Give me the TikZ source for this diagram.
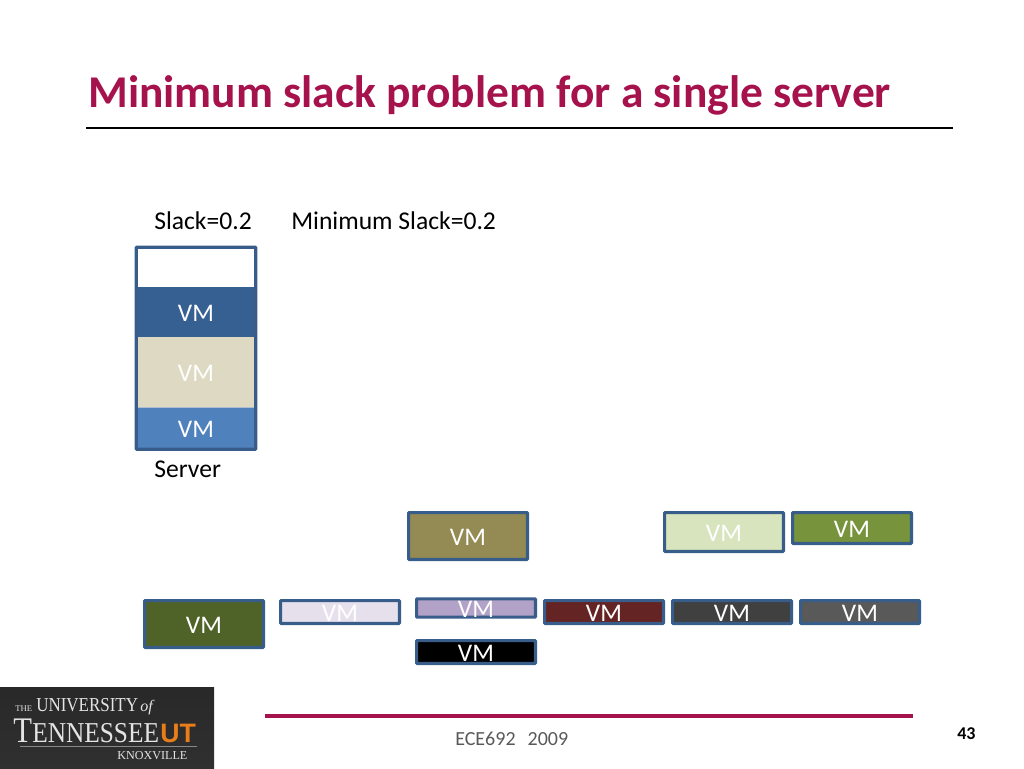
\documentclass[tikz,border=0pt]{standalone}
\usepackage{xcolor}
\usepackage{fontspec}
\setmainfont{Carlito}
\newfontfamily\logofont{Liberation Serif}
\newfontfamily\utfont{Liberation Sans}
\definecolor{titlered}{HTML}{A6124C}
\definecolor{vmborder}{HTML}{385D8A}
\definecolor{logobg}{HTML}{3C3C3C}
\definecolor{logotext}{HTML}{E4E4E4}
\definecolor{utorange}{HTML}{E87E1A}
\definecolor{vmblue}{HTML}{376092}
\definecolor{vmbeige}{HTML}{DDD9C3}
\definecolor{vmsky}{HTML}{4F81BD}
\definecolor{vmkhaki}{HTML}{948A54}
\definecolor{vmpale}{HTML}{D7E4BD}
\definecolor{vmgreen}{HTML}{77933C}
\definecolor{vmolive}{HTML}{4F6228}
\definecolor{vmlilac}{HTML}{E6E0EC}
\definecolor{vmpurple}{HTML}{B3A2C7}
\definecolor{vmred}{HTML}{632423}
\definecolor{vmdark}{HTML}{404040}
\definecolor{vmgray}{HTML}{595959}
\tikzset{
  vmtext/.style={text=white, inner sep=0pt, text height=13.7pt, text depth=0pt, font=\fontsize{19}{19}\selectfont},
  vmbox/.style={vmtext, draw=vmborder, line width=2.3pt, rounded corners=0.5pt},
  vmsize/.style 2 args={minimum width=#1*0.75pt-2.3pt, minimum height=#2*0.75pt-2.3pt},
  stackbox/.style={vmtext, minimum width=119*0.75pt},
  slidetext/.style={anchor=base west, inner sep=0pt, font=\fontsize{19.2}{22}\selectfont},
  logotxt/.style={anchor=base west, inner sep=0pt, text=logotext}
}
\begin{document}
\begin{tikzpicture}[x=0.75pt, y=-0.75pt]

\useasboundingbox (0,0) rectangle (1024,768);

% title
\node[anchor=base west, inner sep=0pt, text=titlered, font=\fontsize{34.1}{34}\selectfont\bfseries] (title) at (88,107) {Minimum slack problem for a single server};
\draw[line width=2.2pt] (86,128) -- (953,128);

\node[slidetext] (slack) at (154,229) {Slack=0.2};
\node[slidetext] (minslack) at (291,229) {Minimum Slack=0.2};
\node[slidetext] (server) at (154,477) {Server};

% server stack
\node[stackbox, fill=white, minimum height=40*0.75pt] (free) at (196,267.5) {};
\node[stackbox, fill=vmblue, minimum height=50*0.75pt] (vma) at (196,312) {VM};
\node[stackbox, fill=vmbeige, minimum height=70*0.75pt] (vmb) at (196,372) {VM};
\node[stackbox, fill=vmsky, minimum height=42*0.75pt] (vmc) at (196,428) {VM};
\draw[white!60!vmborder, line width=0.8pt] (vmb.south west) -- (vmb.south east);
\draw[vmborder, line width=2.3pt, rounded corners=0.5pt] (free.north west) rectangle (vmc.south east);

% waiting vms
\node[vmbox, fill=vmkhaki, vmsize={122}{50}] (vmd) at (468,536) {VM};
\node[vmbox, fill=vmpale, vmsize={122}{42}] (vme) at (724,532) {VM};
\node[vmbox, fill=vmgreen, vmsize={122}{34}] (vmf) at (852,528) {VM};

\node[vmbox, fill=vmolive, vmsize={122}{50}] (vmg) at (204,624) {VM};
\node[vmbox, fill=vmlilac, vmsize={122}{26}] (vmh) at (340,612) {VM};
\node[vmbox, fill=vmpurple, vmsize={122}{18}] (vmi) at (476,608) {VM};
\node[vmbox, fill=black, vmsize={122}{26}] (vmj) at (476,652) {VM};
\node[vmbox, fill=vmred, vmsize={122}{26}] (vmk) at (604,612) {VM};
\node[vmbox, fill=vmdark, vmsize={122}{26}] (vml) at (732,612) {VM};
\node[vmbox, fill=vmgray, vmsize={122}{26}] (vmm) at (860,612) {VM};

% footer
\draw[titlered, line width=2.6pt] (265,716) -- (913,716);
\node[anchor=base west, inner sep=0pt, text=black!65, font=\fontsize{15}{18}\selectfont] (course) at (455,745) {ECE692\hspace{0.6em}2009};
\node[anchor=base west, inner sep=0pt, font=\fontsize{13.5}{16}\selectfont\bfseries] (page) at (957,739) {43};

% logo
\shade[top color=logobg!110!white, bottom color=logobg!80!black] (0,687) rectangle (214,768);
\node[logotxt, font=\logofont\fontsize{6.5}{7}\selectfont] (the) at (15,711) {THE};
\node[logotxt, font=\logofont\fontsize{14.8}{15}\selectfont] (univ) at (36,711) {\scalebox{0.86}[1]{UNIVERSITY}};
\node[logotxt, font=\logofont\itshape\fontsize{12}{12}\selectfont] (of) at (140,711) {of};
\node[logotxt, font=\logofont\fontsize{27}{27}\selectfont] (tee) at (13,742) {\scalebox{0.85}[1]{T}};
\node[logotxt, font=\logofont\fontsize{21.6}{22}\selectfont] (ennessee) at (32,742) {\scalebox{0.88}[1]{ENNESSEE}};
\node[anchor=base west, inner sep=0pt, text=utorange, font=\utfont\bfseries\fontsize{20}{20}\selectfont] (ut) at (160,742) {UT};
\draw[logotext!45!logobg, line width=0.7pt] (20,746) -- (197,746);
\node[logotxt, font=\logofont\fontsize{9.1}{9}\selectfont] (knox) at (117,759) {KNOXVILLE};

\end{tikzpicture}
\end{document}
